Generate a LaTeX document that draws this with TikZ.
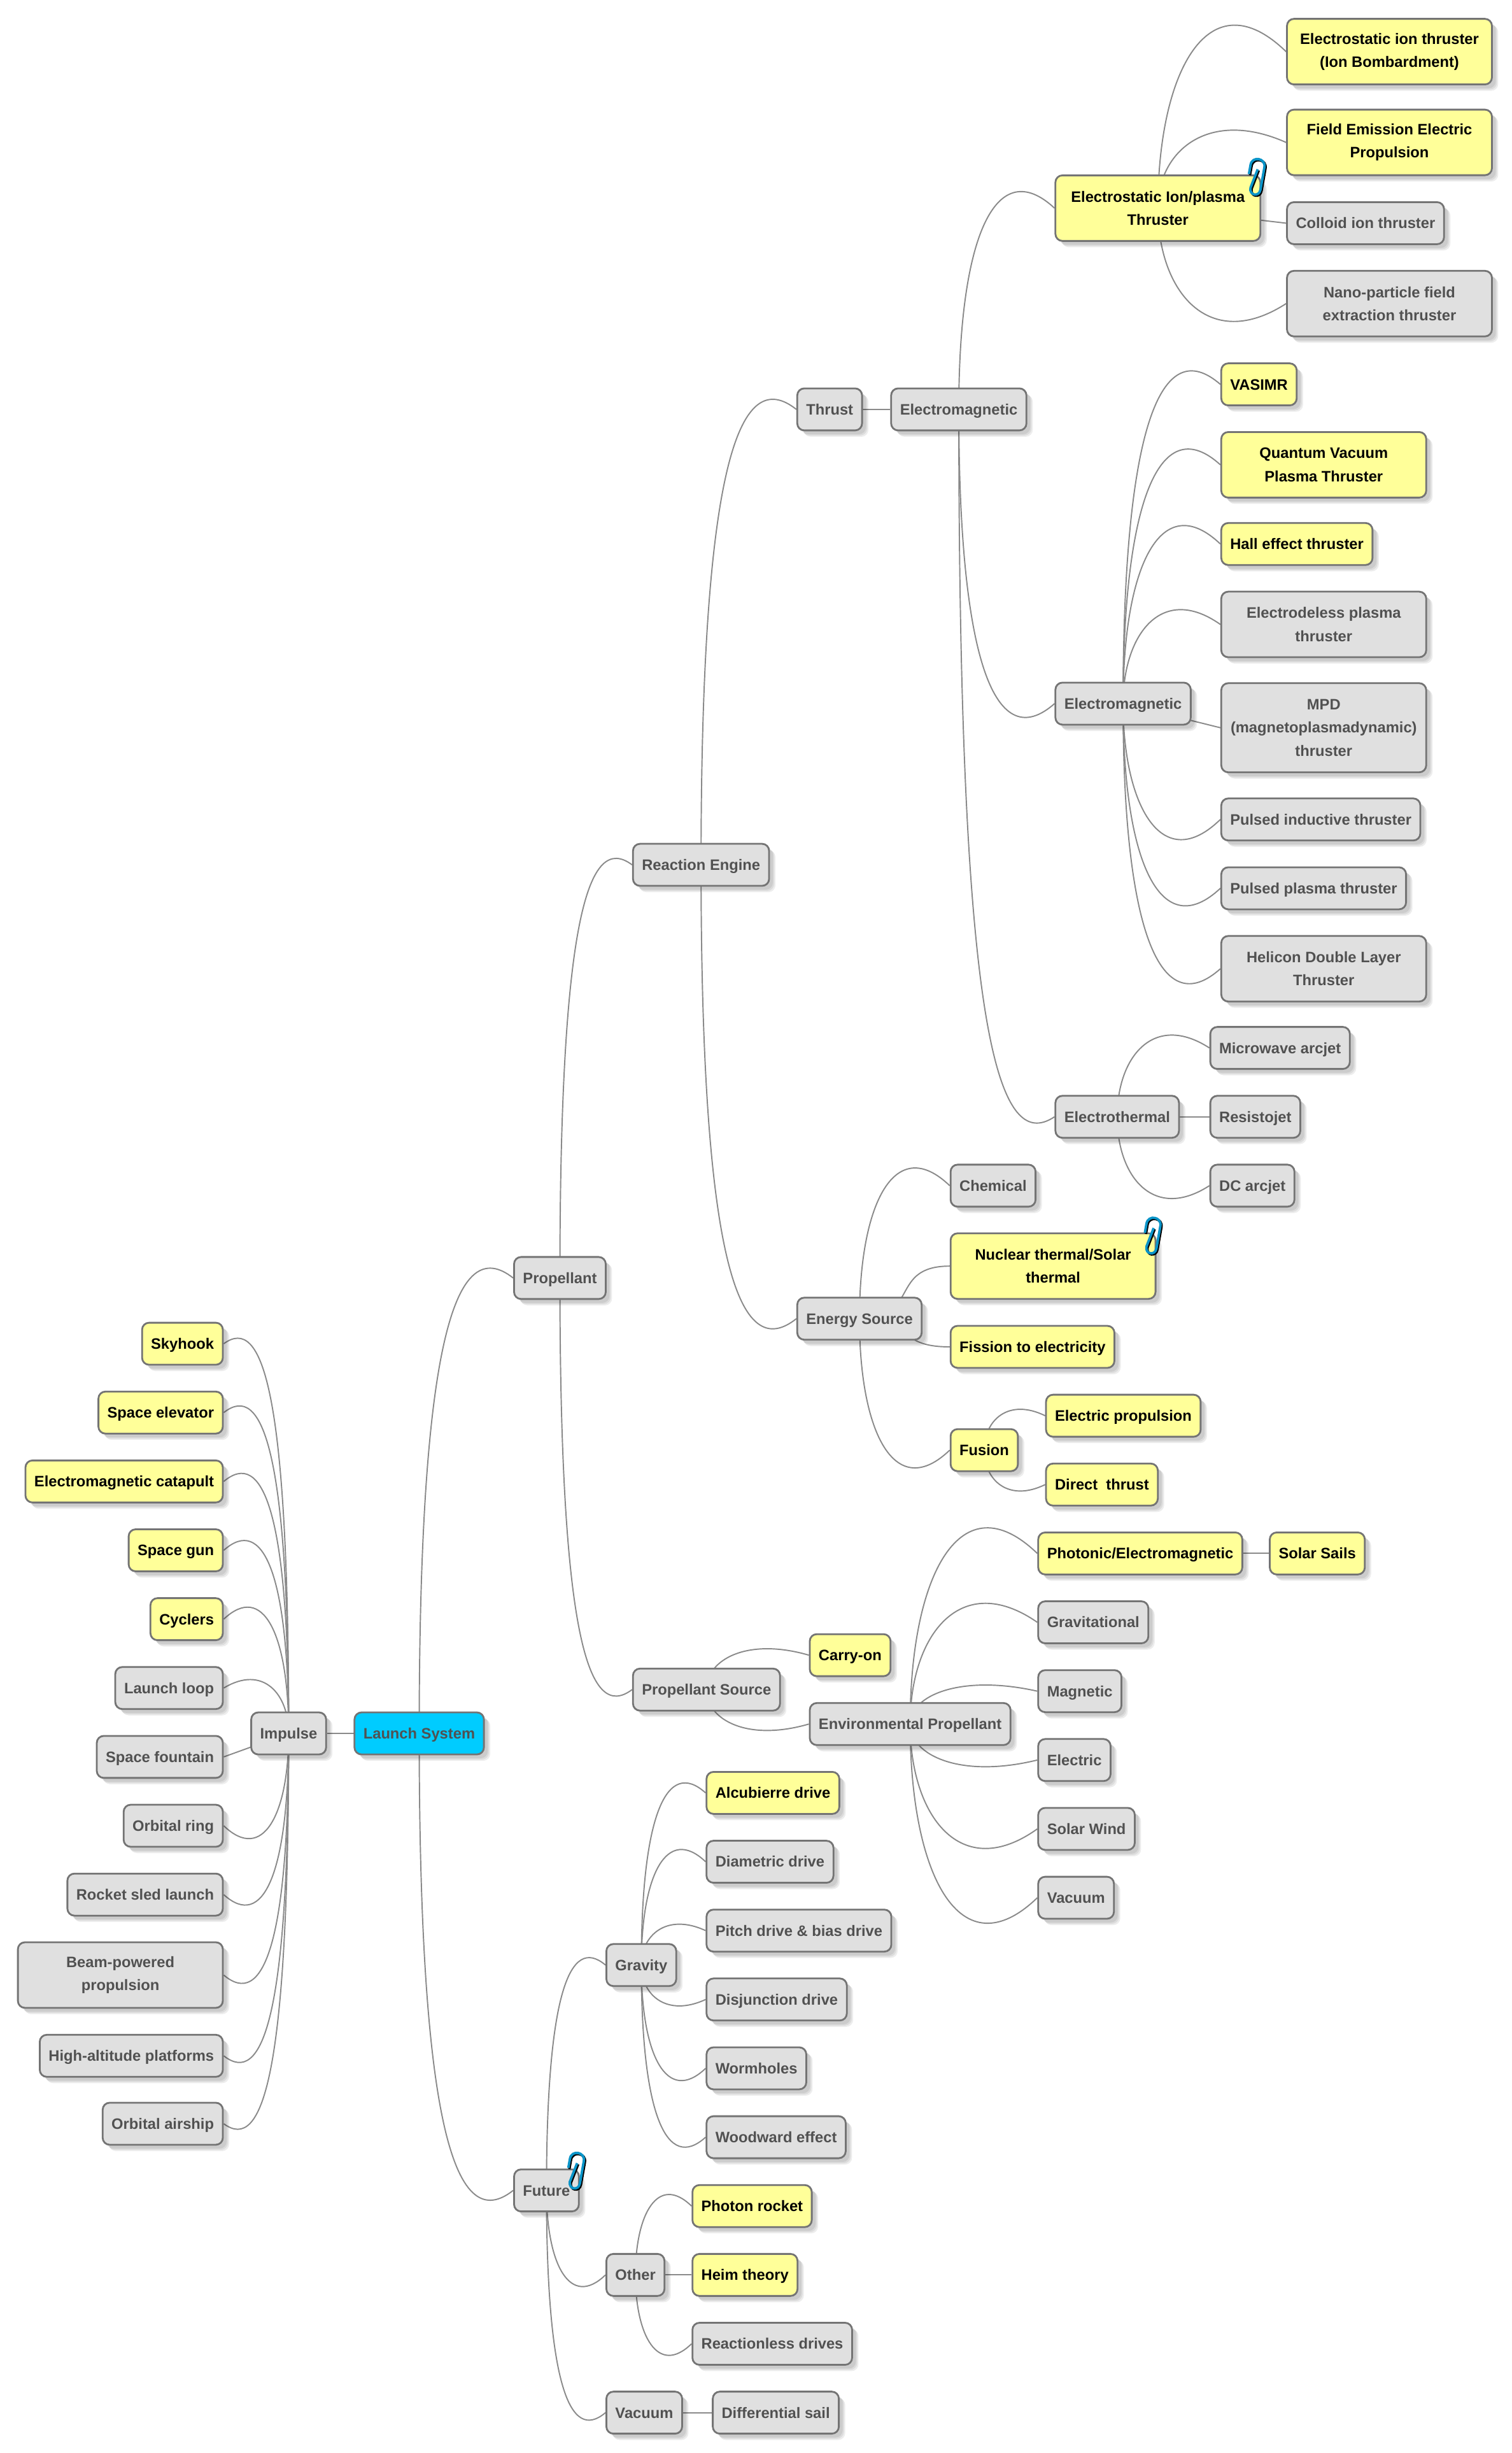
\documentclass[tikz,border=0pt]{standalone}
\usepackage{fontspec}
\setmainfont{Liberation Sans}
\usetikzlibrary{backgrounds,shadows,calc}
\definecolor{greybox}{HTML}{E0E0E0}
\definecolor{greytext}{HTML}{515151}
\definecolor{yellowbox}{HTML}{FFFF99}
\definecolor{cyanbox}{HTML}{00CCFF}
\definecolor{boxline}{HTML}{747474}
\definecolor{edgeline}{HTML}{8A8A8A}
\definecolor{clipblue}{HTML}{0A94C8}
\tikzset{
	topic/.style={draw=boxline,line width=0.8pt,rounded corners=0.11cm,inner xsep=0.14cm,inner ysep=0pt,
		minimum height=0.66cm,text height=6.2pt,text depth=1.4pt,align=center,
		font=\fontsize{6.75}{10.35}\selectfont\bfseries,
		drop shadow={shadow xshift=0.1cm,shadow yshift=-0.1cm,opacity=0.07,fill=black},
		drop shadow={shadow xshift=0.08cm,shadow yshift=-0.08cm,opacity=0.07,fill=black},
		drop shadow={shadow xshift=0.06cm,shadow yshift=-0.06cm,opacity=0.07,fill=black}},
	grey/.style={topic,fill=greybox,text=greytext},
	yellow/.style={topic,fill=yellowbox,text=black},
	root/.style={topic,fill=cyanbox,text=greytext},
	wide/.style={minimum width=3.22cm},
	twolines/.style={minimum height=1.03cm,text height=,text depth=},
	threelines/.style={minimum height=1.4cm,text height=,text depth=},
	edge/.style={draw=edgeline,line width=0.55pt},
	pics/paperclip/.style={code={
		\draw[black,line width=1.1pt,shift={(0.8,0.6)}] (-4.5,-1)--(-4.5,-7) .. controls (-4.5,-13) and (4.5,-13) .. (4.5,-7)--(4.5,7.5) .. controls (4.5,12.5) and (-2,12.5) .. (-2,7.5)--(0.5,-5);
		\draw[clipblue,line width=1.1pt] (-4.5,-1)--(-4.5,-7) .. controls (-4.5,-13) and (4.5,-13) .. (4.5,-7)--(4.5,7.5) .. controls (4.5,12.5) and (-2,12.5) .. (-2,7.5)--(0.5,-5);
	}}
}
% parent centre to child side, bulging past the child a little
\newcommand{\branchedge}[3]{
	\draw[edge] let \p1=(#1.center),\p2=(#2.#3),\n1={abs(\x2-\x1)},\n2={abs(\y2-\y1)/max(\n1,1)},\n3={\n1*min(0.52*\n2,0.62-0.03*\n2)*((\y2>\y1)-(\y2<\y1))} in
		(\p1) .. controls (\x1,{\y1+0.88*(\y2-\y1)}) and ({\x2-0.6*(\x2-\x1)},{\y2+\n3}) .. (\p2);
}
\begin{document}
\begin{tikzpicture}[x=0.024575cm,y=-0.024575cm]
	\useasboundingbox (0,0) rectangle (966,1567.4);
	\node[root,anchor=west] (launch) at (226,1107.6) {Launch System};
	\node[grey,anchor=west] (impulse) at (160,1107.6) {Impulse};
	% left side
	\node[yellow,anchor=east] (skyhook) at (143,858.6) {Skyhook};
	\node[yellow,anchor=east] (elevator) at (143,902.6) {Space elevator};
	\node[yellow,anchor=east] (catapult) at (143,946.6) {Electromagnetic catapult};
	\node[yellow,anchor=east] (gun) at (143,990.6) {Space gun};
	\node[yellow,anchor=east] (cyclers) at (143,1034.6) {Cyclers};
	\node[grey,anchor=east] (loop) at (143,1078.6) {Launch loop};
	\node[grey,anchor=east] (fountain) at (143,1122.6) {Space fountain};
	\node[grey,anchor=east] (ring) at (143,1166.6) {Orbital ring};
	\node[grey,anchor=east] (sled) at (143,1210.6) {Rocket sled launch};
	\node[grey,wide,twolines,anchor=east] (beam) at (143,1262) {Beam-powered\\propulsion};
	\node[grey,anchor=east] (platforms) at (143,1313.6) {High-altitude platforms};
	\node[grey,anchor=east] (airship) at (143,1357) {Orbital airship};
	% right side
	\node[grey,anchor=west] (propellant) at (328,816.6) {Propellant};
	\node[grey,anchor=west] (reaction) at (404,552.6) {Reaction Engine};
	\node[grey,anchor=west] (thrust) at (509,261.6) {Thrust};
	\node[grey,anchor=west] (emtop) at (569,261.6) {Electromagnetic};
	\node[yellow,wide,twolines,anchor=west] (ionplasma) at (674,133) {Electrostatic Ion/plasma\\Thruster};
	\node[yellow,wide,twolines,anchor=west] (ionthruster) at (822,33) {Electrostatic ion thruster\\(Ion Bombardment)};
	\node[yellow,wide,twolines,anchor=west] (fieldemission) at (822,91) {Field Emission Electric\\Propulsion};
	\node[grey,anchor=west] (colloid) at (822,142.6) {Colloid ion thruster};
	\node[grey,wide,twolines,anchor=west] (nano) at (822,194) {Nano-particle field\\extraction thruster};
	\node[grey,anchor=west] (emlow) at (674,449.6) {Electromagnetic};
	\node[yellow,anchor=west] (vasimr) at (780,245.6) {VASIMR};
	\node[yellow,wide,twolines,anchor=west] (quantum) at (780,297) {Quantum Vacuum\\Plasma Thruster};
	\node[yellow,anchor=west] (hall) at (780,347.6) {Hall effect thruster};
	\node[grey,wide,twolines,anchor=west] (electrodeless) at (780,399) {Electrodeless plasma\\thruster};
	\node[grey,wide,threelines,anchor=west] (mpd) at (780,465) {MPD\\(magnetoplasmadynamic)\\thruster};
	\node[grey,anchor=west] (inductive) at (780,523.6) {Pulsed inductive thruster};
	\node[grey,anchor=west] (pulsedplasma) at (780,567.6) {Pulsed plasma thruster};
	\node[grey,wide,twolines,anchor=west] (helicon) at (780,619) {Helicon Double Layer\\Thruster};
	\node[grey,anchor=west] (electrothermal) at (674,713.6) {Electrothermal};
	\node[grey,anchor=west] (microwave) at (773,669.6) {Microwave arcjet};
	\node[grey,anchor=west] (resistojet) at (773,713.6) {Resistojet};
	\node[grey,anchor=west] (dcarcjet) at (773,757.6) {DC arcjet};
	\node[grey,anchor=west] (energy) at (509,842.6) {Energy Source};
	\node[grey,anchor=west] (chemical) at (607,757.6) {Chemical};
	\node[yellow,wide,twolines,anchor=west] (nuclear) at (607,809) {Nuclear thermal/Solar\\thermal};
	\node[yellow,anchor=west] (fission) at (607,860.6) {Fission to electricity};
	\node[yellow,anchor=west] (fusion) at (607,926.6) {Fusion};
	\node[yellow,anchor=west] (electricprop) at (668,904.6) {Electric propulsion};
	\node[yellow,anchor=west] (directthrust) at (668,948.6) {Direct\ \ thrust};
	\node[grey,anchor=west] (source) at (404,1079.6) {Propellant Source};
	\node[yellow,anchor=west] (carryon) at (517,1057.6) {Carry-on};
	\node[grey,anchor=west] (environmental) at (517,1101.6) {Environmental Propellant};
	\node[yellow,anchor=west] (photonic) at (663,992.6) {Photonic/Electromagnetic};
	\node[yellow,anchor=west] (sails) at (811,992.6) {Solar Sails};
	\node[grey,anchor=west] (gravitational) at (663,1036.6) {Gravitational};
	\node[grey,anchor=west] (magnetic) at (663,1080.6) {Magnetic};
	\node[grey,anchor=west] (electric) at (663,1124.6) {Electric};
	\node[grey,anchor=west] (solarwind) at (663,1168.6) {Solar Wind};
	\node[grey,anchor=west] (vacuumenv) at (663,1212.6) {Vacuum};
	\node[grey,anchor=west] (future) at (328,1399.6) {Future};
	\node[grey,anchor=west] (gravity) at (387,1255.6) {Gravity};
	\node[yellow,anchor=west] (alcubierre) at (451,1145.6) {Alcubierre drive};
	\node[grey,anchor=west] (diametric) at (451,1189.6) {Diametric drive};
	\node[grey,anchor=west] (pitch) at (451,1233.6) {Pitch drive \& bias drive};
	\node[grey,anchor=west] (disjunction) at (451,1277.6) {Disjunction drive};
	\node[grey,anchor=west] (wormholes) at (451,1321.6) {Wormholes};
	\node[grey,anchor=west] (woodward) at (451,1365.6) {Woodward effect};
	\node[grey,anchor=west] (other) at (387,1453.6) {Other};
	\node[yellow,anchor=west] (photon) at (442,1409.6) {Photon rocket};
	\node[yellow,anchor=west] (heim) at (442,1453.6) {Heim theory};
	\node[grey,anchor=west] (reactionless) at (442,1497.6) {Reactionless drives};
	\node[grey,anchor=west] (vacuumfut) at (387,1541.6) {Vacuum};
	\node[grey,anchor=west] (sail) at (455,1541.6) {Differential sail};
	\begin{scope}[on background layer]
		\fill[white] (0,0) rectangle (966,1567.4);
		\foreach \a/\b/\c in {impulse/skyhook/east,impulse/elevator/east,impulse/catapult/east,impulse/gun/east,impulse/cyclers/east,impulse/loop/east,impulse/ring/east,impulse/sled/east,impulse/beam/east,impulse/platforms/east,impulse/airship/east,
			launch/impulse/east,launch/propellant/west,launch/future/west,propellant/reaction/west,propellant/source/west,reaction/thrust/west,reaction/energy/west,thrust/emtop/west,
			emtop/ionplasma/west,emtop/emlow/west,emtop/electrothermal/west,ionplasma/ionthruster/west,ionplasma/fieldemission/west,ionplasma/nano/west,
			emlow/vasimr/west,emlow/quantum/west,emlow/hall/west,emlow/electrodeless/west,emlow/inductive/west,emlow/pulsedplasma/west,emlow/helicon/west,
			electrothermal/microwave/west,electrothermal/resistojet/west,electrothermal/dcarcjet/west,energy/chemical/west,energy/fusion/west,fusion/electricprop/west,fusion/directthrust/west,
			source/carryon/west,source/environmental/west,environmental/photonic/west,photonic/sails/west,environmental/gravitational/west,environmental/magnetic/west,environmental/electric/west,environmental/solarwind/west,environmental/vacuumenv/west,
			future/gravity/west,gravity/alcubierre/west,gravity/diametric/west,gravity/pitch/west,gravity/disjunction/west,gravity/wormholes/west,gravity/woodward/west,future/other/west,other/photon/west,other/heim/west,other/reactionless/west,future/vacuumfut/west,vacuumfut/sail/west}
		\branchedge{\a}{\b}{\c};
		\draw[edge] (energy.center) to[out=0,in=180,looseness=1.5] (nuclear.west);
		\draw[edge] (energy.center) to[out=0,in=180,looseness=1.5] (fission.west);
		\draw[edge] (impulse.center)--(fountain.east);
		\draw[edge] (ionplasma.center)--(colloid.west);
		\draw[edge] (emlow.center)--(mpd.west);
	\end{scope}
	\pic[rotate=-10] at (802.5,113) {paperclip};
	\pic[rotate=-10] at (736,789.5) {paperclip};
	\pic[rotate=-10] at (367.5,1387) {paperclip};
\end{tikzpicture}
\end{document}
